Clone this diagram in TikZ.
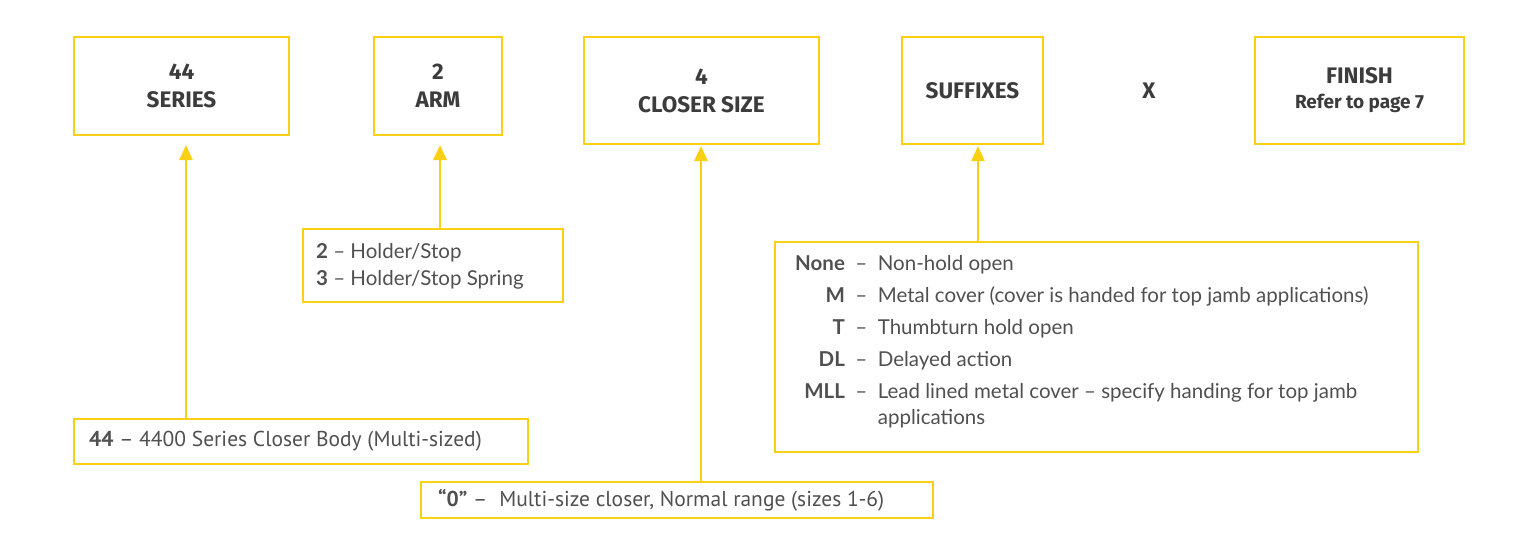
\documentclass[tikz,border=0pt]{standalone}
\usepackage{fontspec}
\setmainfont{Fira Sans}
\newfontfamily\bodyfont{Lato}
\newfontfamily\dinfont{PT Sans}
\usetikzlibrary{arrows.meta}
\definecolor{ylw}{RGB}{250,208,22}
\definecolor{txt}{RGB}{60,60,60}
\definecolor{bodytxt}{RGB}{80,80,80}
\begin{document}
\begin{tikzpicture}[x=1pt,y=-1pt,
  hbox/.style={draw=ylw, line width=2.8pt, align=center, text=txt, inner sep=0pt,
    font=\bfseries\fontsize{22.5}{28}\selectfont},
  frame/.style={draw=ylw, line width=2.8pt, inner sep=0pt},
  dtext/.style={anchor=west, inner sep=0pt, align=left, text=bodytxt,
    font=\bodyfont\fontsize{20.5}{27}\selectfont},
  dintext/.style={anchor=west, inner sep=0pt, text=bodytxt,
    font=\dinfont\fontsize{21.5}{25}\selectfont},
  arr/.style={draw=ylw, line width=2.8pt, -{Triangle[length=15pt,width=13pt]}}
]
\useasboundingbox (0,0) rectangle (1528,549);
% top boxes
\node[hbox, minimum width=215pt, minimum height=98pt] (series) at (181.5,86) {44\\SERIES};
\node[hbox, minimum width=128pt, minimum height=98pt] (arm) at (438,86) {2\\ARM};
\node[hbox, minimum width=235pt, minimum height=107pt] (size) at (701.5,90.5) {4\\CLOSER SIZE};
\node[hbox, minimum width=141pt, minimum height=107pt] (suf) at (972.5,90.5) {SUFFIXES};
\node[text=txt, font=\bfseries\fontsize{22.5}{26}\selectfont] (x) at (1149,91) {X};
\node[hbox, minimum width=209pt, minimum height=107pt] (finish) at (1359.5,90.5)
  {FINISH\\[-3pt]{\fontsize{19}{24}\selectfont Refer to page 7}};
% description frames
\node[frame, minimum width=454pt, minimum height=45pt] (d44) at (301,441.5) {};
\node[frame, minimum width=512pt, minimum height=36pt] (d0) at (677,500) {};
\node[frame, minimum width=260pt, minimum height=73pt] (darm) at (433,265.5) {};
\node[frame, minimum width=643pt, minimum height=210pt] (dsuf) at (1096.5,347) {};
% description texts
\node[dintext] (t44txt) at (89,441.5) {\textbf{44} – 4400 Series Closer Body (Multi-sized)};
\node[dintext] (t0txt) at (438,500) {\textbf{“0”} –\hspace{12pt}Multi-size closer, Normal range (sizes 1-6)};
\node[dtext] (tarmtxt) at (316,266) {\textbf{2} – Holder/Stop\\\textbf{3} – Holder/Stop Spring};
\node[anchor=north west, inner sep=0pt, text=bodytxt, font=\bodyfont\fontsize{20.5}{26}\selectfont] (suftab) at (795,252)
  {\begin{tabular}{@{}r@{\ \ }l@{}}
  \textbf{None} & –\ \ Non-hold open\\[6pt]
  \textbf{M} & –\ \ Metal cover (cover is handed for top jamb applications)\\[6pt]
  \textbf{T} & –\ \ Thumbturn hold open\\[6pt]
  \textbf{DL} & –\ \ Delayed action\\[6pt]
  \textbf{MLL} & –\ \ Lead lined metal cover – specify handing for top jamb\\
   & \phantom{–\ \ }applications
  \end{tabular}};
% arrow tips
\coordinate (t44) at (186,145);
\coordinate (tarm) at (440,145);
\coordinate (tsize) at (701,146);
\coordinate (tsuf) at (978,146);
\draw[arr] (d44.north -| t44) -- (t44);
\draw[arr] (darm.north -| tarm) -- (tarm);
\draw[arr] (d0.north -| tsize) -- (tsize);
\draw[arr] (dsuf.north -| tsuf) -- (tsuf);
\end{tikzpicture}
\end{document}
